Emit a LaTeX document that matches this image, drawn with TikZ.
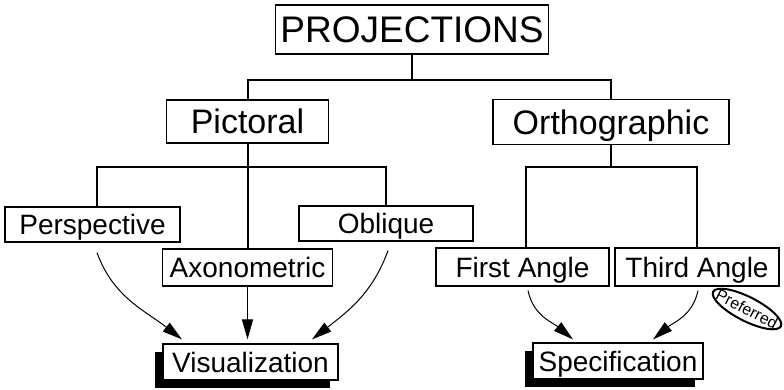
\documentclass[tikz,border=0pt]{standalone}
\usepackage{fontspec}
\setmainfont{Liberation Sans}
\usetikzlibrary{arrows.meta,shadows}
\begin{document}
\begin{tikzpicture}[x=1pt,y=1pt,
  box/.style={draw, line width=1.2pt, fill=white, inner sep=0pt, text depth=0pt},
  big/.style={font=\fontsize{37}{40}\selectfont, text height=26.6pt},
  mid/.style={font=\fontsize{34}{38}\selectfont, text height=24.5pt},
  small/.style={font=\fontsize{28}{32}\selectfont, text height=20.2pt},
  shad/.style={general shadow={fill=black, shadow xshift=-8pt, shadow yshift=-8pt}},
  tree/.style={line width=2pt},
  arr/.style={line width=1pt, -{Triangle[length=20pt,width=11pt]}}]
\useasboundingbox (0,0) rectangle (784,-389);

\node[box, big, minimum width=273pt, minimum height=49pt] (proj) at (412,-29.5) {PROJECTIONS};
\node[box, mid, minimum width=162pt, minimum height=43pt] (pict) at (247.5,-121.5) {Pictoral};
\node[box, mid, minimum width=236pt, minimum height=45pt] (orth) at (611,-122) {Orthographic};
\node[box, small, minimum width=175pt, minimum height=35pt] (persp) at (92.5,-224.5) {Perspective};
\node[box, small, minimum width=174pt, minimum height=35pt] (obl) at (386,-223.5) {Oblique};
\node[box, small, minimum width=170pt, minimum height=37pt] (axo) at (247.5,-267.5) {Axonometric};
\node[box, small, minimum width=173pt, minimum height=38pt] (first) at (522.5,-267) {First Angle};
\node[box, small, minimum width=164pt, minimum height=38pt] (third) at (697,-267) {Third Angle};
\node[box, small, shad, minimum width=175pt, minimum height=36pt] (vis) at (250.5,-362) {Visualization};
\node[box, small, shad, minimum width=170pt, minimum height=36pt] (spec) at (618,-361) {Specification};
\node[rotate=-27, inner sep=0pt, font=\fontsize{16}{16}\selectfont] (pref) at (747,-309) {Preferred};
\draw[line width=2pt, rotate around={-27:(pref)}] (pref) ellipse [x radius=38, y radius=12];

% tree
\coordinate (b1) at (412,-80);
\coordinate (b2) at (247.5,-167);
\coordinate (b3) at (611,-167);
\draw[tree] (proj.south) -- (b1);
\draw[tree] (pict.north) |- (b1) -| (orth.north);
\draw[tree] (pict.south) -- (axo.north);
\draw[tree] ([xshift=4.5pt]persp.north) |- (b2) -| (obl.north);
\draw[tree] (orth.south) -- (b3);
\draw[tree] ([xshift=3.5pt]first.north) |- (b3) -| (third.north);

% arrows
\draw[arr] ([xshift=4.5pt,yshift=-10pt]persp.south) to[out=-70,in=142] ([xshift=-68.5pt,yshift=4pt]vis.north);
\draw[arr] ([xshift=2pt,yshift=-9pt]obl.south) to[out=-110,in=38] ([xshift=61.5pt,yshift=4pt]vis.north);
\draw[arr] (axo.south) -- ([yshift=4pt]axo.south |- vis.north);
\draw[arr] ([xshift=5.5pt,yshift=-4pt]first.south) to[out=-78,in=140] ([xshift=-45pt,yshift=3pt]spec.north);
\draw[arr] ([xshift=1pt,yshift=-4pt]third.south) to[out=-102,in=40] ([xshift=35pt,yshift=3pt]spec.north);
\end{tikzpicture}
\end{document}
